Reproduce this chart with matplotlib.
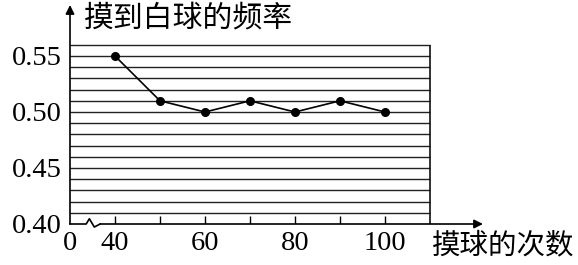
import matplotlib
matplotlib.use("Agg")
import matplotlib.pyplot as plt

counts = [40, 50, 60, 70, 80, 90, 100]
freq = [0.55, 0.51, 0.50, 0.51, 0.50, 0.51, 0.50]
ytick_vals = [0.40, 0.45, 0.50, 0.55]
ytick_labels = ["0.40", "0.45", "0.50", "0.55"]
xtick_vals = [30, 40, 60, 80, 100]
xtick_labels = ["0", "40", "60", "80", "100"]
grid_vals = [0.41 + 0.01 * i for i in range(16)]
ylabel = "摸到白球的频率"
xlabel = "摸球的次数"

W, H = 578, 265
fig = plt.figure(figsize=(W / 100, H / 100), dpi=100)
ax_left, ax_right, ax_bottom, ax_top = 70, 483, 224, 5
ax = fig.add_axes([ax_left / W, (H - ax_bottom) / H, (ax_right - ax_left) / W, (ax_bottom - ax_top) / H])
x0 = 30
xmax = x0 + (ax_right - ax_left) / 4.5
ymax = 0.40 + (ax_bottom - ax_top) / 1120
ax.set_xlim(x0, xmax)
ax.set_ylim(0.40, ymax)
for s in ax.spines.values():
    s.set_visible(False)

serif = ["Liberation Serif", "DejaVu Serif"]
cjk = ["Noto Sans CJK SC", "DejaVu Sans"]

# grid lines and box
ax.hlines(grid_vals, x0 - 0.4, 110, color="#222222", lw=1.0, zorder=1)
ax.vlines(110, 0.40, 0.56, color="#111111", lw=1.2, zorder=1)

# x axis with break
ax.plot([x0, 33.6, 34.3, 35.4, 36.7], [0.40, 0.40, 0.4047, 0.3973, 0.40],
        color="black", lw=1.2, clip_on=False, zorder=3)
ax.annotate("", xy=(1, 0), xycoords="axes fraction", xytext=(36.7, 0.40), textcoords="data",
            arrowprops=dict(arrowstyle="-|>", color="black", lw=1.2, shrinkA=0, shrinkB=0,
                            mutation_scale=13))
ax.annotate("", xy=(0, 1), xycoords="axes fraction", xytext=(x0, 0.40), textcoords="data",
            arrowprops=dict(arrowstyle="-|>", color="black", lw=1.2, shrinkA=0, shrinkB=0,
                            mutation_scale=13))

# x ticks (inward, small)
ax.vlines(counts, 0.40, 0.40 + 8 / 1120, color="black", lw=1.0, zorder=3)

ax.set_xticks(xtick_vals)
ax.set_xticklabels(xtick_labels, fontsize=20.5, family=serif)
ax.set_yticks(ytick_vals)
ax.set_yticklabels(ytick_labels, fontsize=20.5, family=serif)
ax.tick_params(axis="both", length=0)
ax.tick_params(axis="x", pad=5)
ax.tick_params(axis="y", pad=6)

# data
ax.plot(counts, freq, color="black", lw=1.2, marker="o", markersize=5.5, zorder=4)

fig.text(188 / W, (H - 18) / H, ylabel, fontsize=21.5, family=cjk, ha="center", va="center")
fig.text(574 / W, (H - 245) / H, xlabel, fontsize=20.5, family=cjk, ha="right", va="center")

fig.savefig("out.png", dpi=100)
